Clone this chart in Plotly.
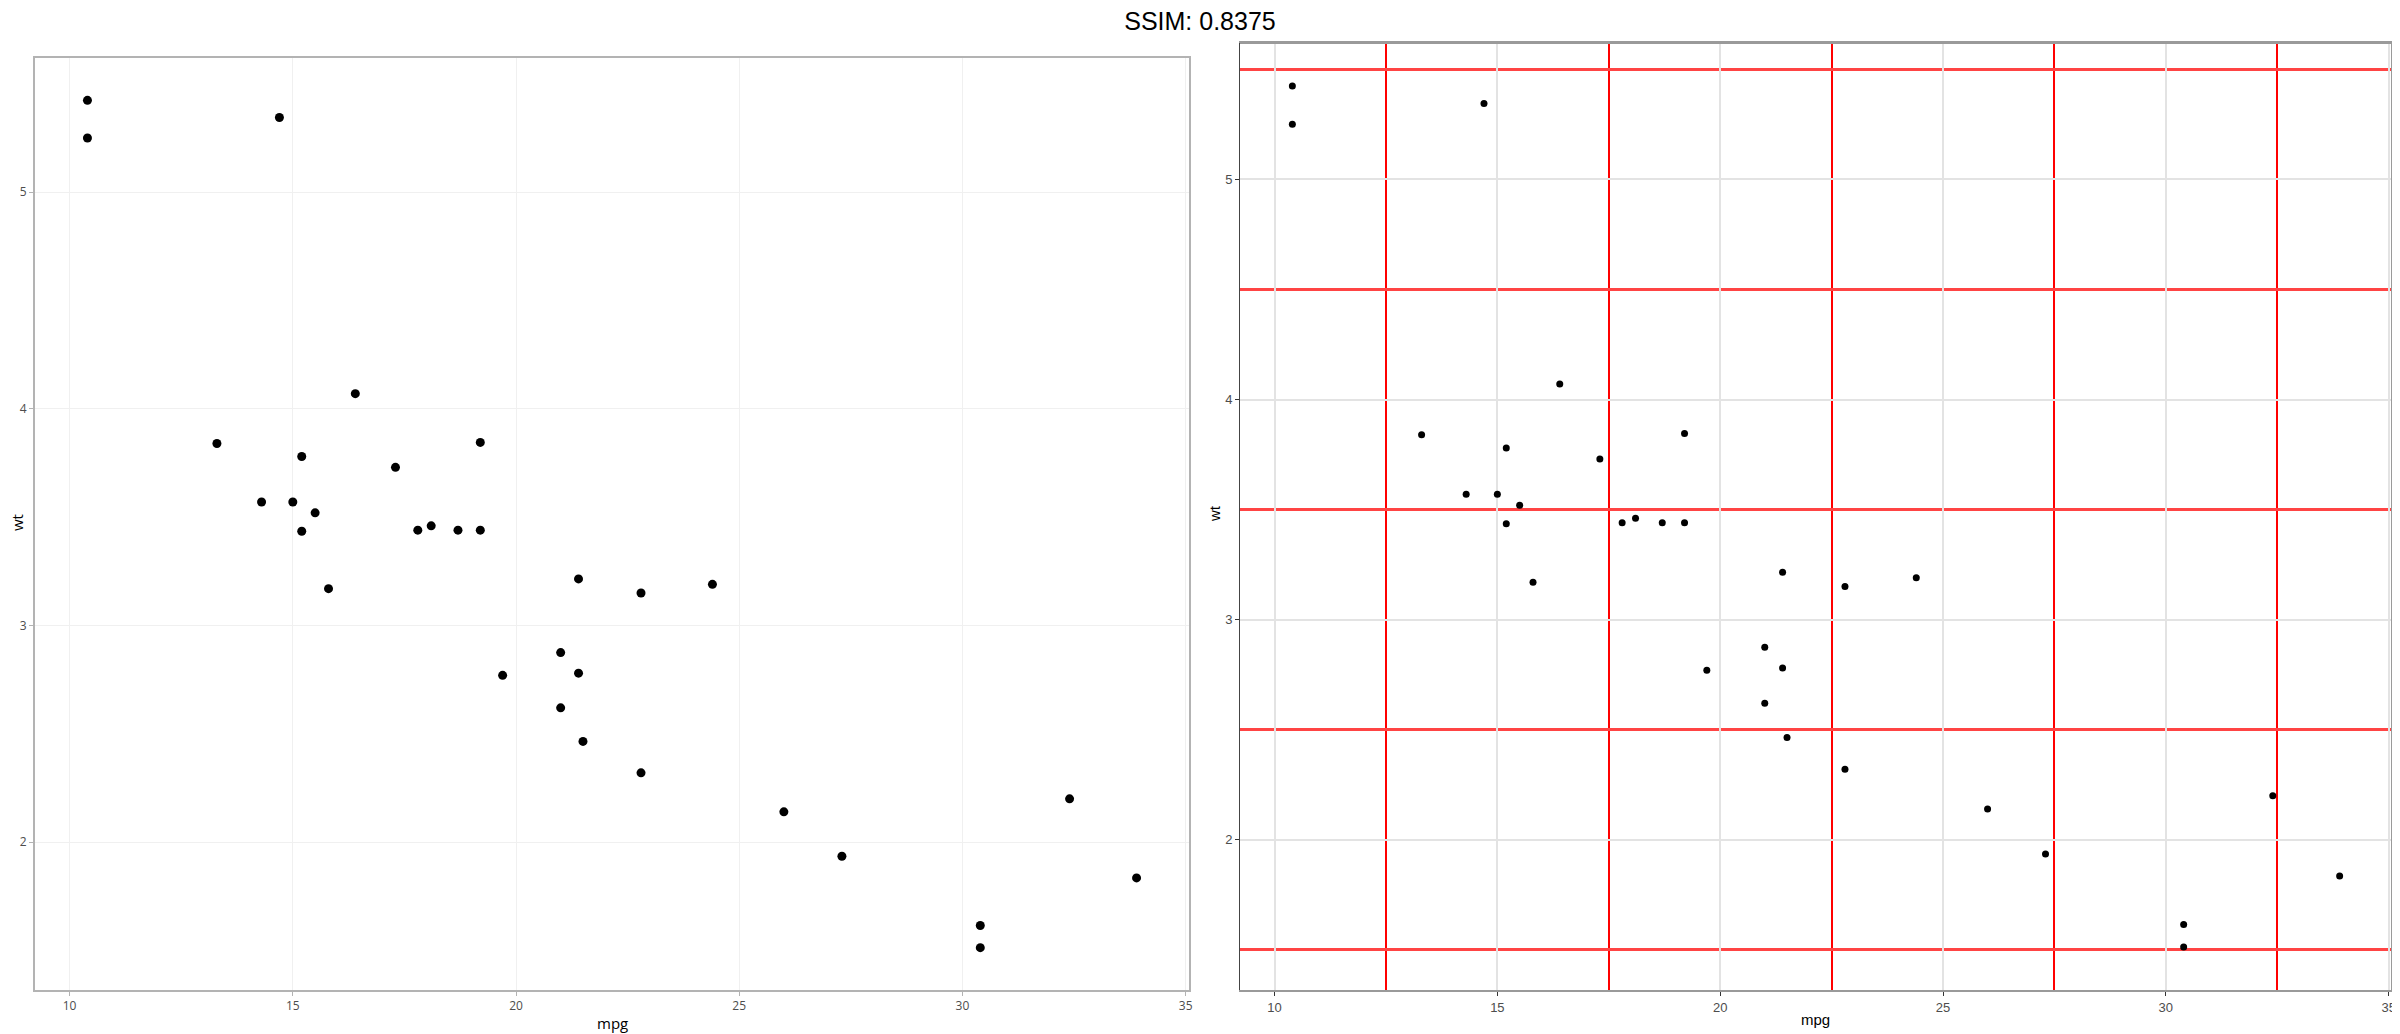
import plotly.graph_objects as go

# mtcars data
mpg = [21.0, 21.0, 22.8, 21.4, 18.7, 18.1, 14.3, 24.4, 22.8, 19.2, 17.8, 16.4, 17.3, 15.2,
       10.4, 10.4, 14.7, 32.4, 30.4, 33.9, 21.5, 15.5, 15.2, 13.3, 19.2, 27.3, 26.0, 30.4,
       15.8, 19.7, 15.0, 21.4]
wt = [2.620, 2.875, 2.320, 3.215, 3.440, 3.460, 3.570, 3.190, 3.150, 3.440, 3.440, 4.070,
      3.730, 3.780, 5.250, 5.424, 5.345, 2.200, 1.615, 1.835, 2.465, 3.520, 3.435, 3.840,
      3.845, 1.935, 2.140, 1.513, 3.170, 2.770, 3.570, 2.780]

x_ticks = [10, 15, 20, 25, 30, 35]
y_ticks = [2, 3, 4, 5]
x_minor = [12.5, 17.5, 22.5, 27.5, 32.5]
y_minor = [1.5, 2.5, 3.5, 4.5, 5.5]
x_range = [9.225, 35.075]
y_range = [1.3175, 5.6195]
title_text = "SSIM: 0.8375"
x_title = "mpg"
y_title = "wt"

OFF = 8  # default page body margin
W, H = 2400 - OFF, 1034 - OFF
def px_x(p): return (p - OFF) / W
def px_y(p): return 1 - (p - OFF) / H

fig = go.Figure()
fig.add_trace(go.Scatter(x=mpg, y=wt, mode="markers", xaxis="x", yaxis="y",
                         marker=dict(color="black", size=9), showlegend=False))
fig.add_trace(go.Scatter(x=mpg, y=wt, mode="markers", xaxis="x2", yaxis="y2",
                         marker=dict(color="black", size=7), showlegend=False))

left_font = dict(family="Open Sans", size=12, color="#4d4d4d")
right_font = dict(family="Liberation Sans", size=13, color="#4d4d4d")

def ann(text, x, y, font, angle=0):
    return dict(text=text, x=px_x(x), y=px_y(y), xref="paper", yref="paper",
                showarrow=False, xanchor="center", yanchor="middle", textangle=angle, font=font,
                borderpad=0)

lt_font = dict(family="Open Sans", size=15, color="black")
rt_font = dict(family="Liberation Sans", size=15, color="black")

fig.update_layout(
    width=W, height=H,
    margin=dict(l=0, r=0, t=0, b=0),
    paper_bgcolor="white", plot_bgcolor="white",
    title=dict(text=title_text, x=px_x(1200), xanchor="center", y=px_y(21), yanchor="middle",
               font=dict(family="Liberation Sans", size=25, color="black")),
    xaxis=dict(domain=[px_x(35), px_x(1189)], range=x_range, tickvals=x_ticks, automargin=False,
               showgrid=True, gridcolor="#f0f0f0", gridwidth=1, zeroline=False,
               showline=True, linecolor="#b3b3b3", linewidth=2, mirror=True,
               ticks="outside", ticklen=4, tickcolor="#b3b3b3", tickfont=left_font,
               anchor="y"),
    yaxis=dict(domain=[px_y(990), px_y(58)], range=y_range, tickvals=y_ticks, automargin=False,
               showgrid=True, gridcolor="#f0f0f0", gridwidth=1, zeroline=False,
               showline=True, linecolor="#b3b3b3", linewidth=2, mirror=True,
               ticks="outside", ticklen=4, tickcolor="#b3b3b3", tickfont=left_font,
               anchor="x"),
    xaxis2=dict(domain=[px_x(1240), px_x(2392)], range=x_range, tickvals=x_ticks, automargin=False,
                showgrid=True, gridcolor="#e3e3e3", gridwidth=1.5, zeroline=False,
                showline=True, linecolor="#9a9a9a", linewidth=2, mirror=True,
                ticks="outside", ticklen=4, tickcolor="#333333", tickfont=right_font,
                minor=dict(tickvals=x_minor, showgrid=True, gridcolor="#ff0000", gridwidth=2, ticks=""),
                anchor="y2"),
    yaxis2=dict(domain=[px_y(990), px_y(43)], range=y_range, tickvals=y_ticks, automargin=False,
                showgrid=True, gridcolor="#e3e3e3", gridwidth=1.5, zeroline=False,
                showline=True, linecolor="#444444", linewidth=1,
                ticks="outside", ticklen=4, tickcolor="#333333", tickfont=right_font,
                minor=dict(tickvals=y_minor, showgrid=True, gridcolor="#ff4444", gridwidth=2.5, ticks=""),
                anchor="x2"),
    annotations=[
        ann(x_title, 612, 1023, lt_font),
        ann(y_title, 17, 523, lt_font, -90),
        ann(x_title, 1815, 1019, rt_font),
        ann(y_title, 1214, 514, rt_font, -90),
    ],
    shapes=[
        dict(type="line", xref="x2 domain", yref="y2 domain", x0=1, x1=1, y0=0, y1=1,
             line=dict(color="#9a9a9a", width=2), layer="above"),
        dict(type="line", xref="x2 domain", yref="y2 domain", x0=0, x1=1, y0=1, y1=1,
             line=dict(color="#9a9a9a", width=2), layer="above"),
    ],
)

fig.write_html("out.html")
